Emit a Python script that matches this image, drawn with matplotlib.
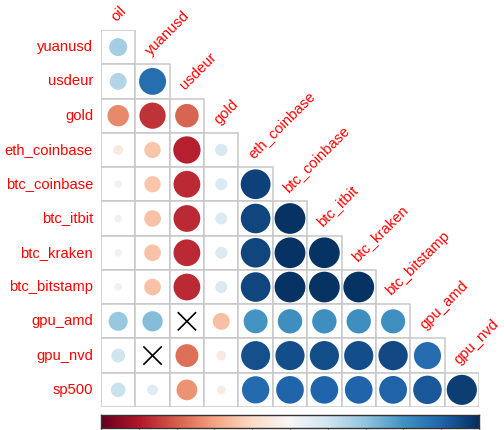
import numpy as np
import matplotlib
matplotlib.use("Agg")
import matplotlib.pyplot as plt
from matplotlib.patches import Circle, Rectangle

plt.rcParams['font.family'] = ['Liberation Sans', 'DejaVu Sans']

names = ['oil', 'yuanusd', 'usdeur', 'gold', 'eth_coinbase', 'btc_coinbase',
         'btc_itbit', 'btc_kraken', 'btc_bitstamp', 'gpu_amd', 'gpu_nvd', 'sp500']

# lower-triangle correlations (row i vs columns 0..i-1)
r_yuanusd = [0.34]
r_usdeur = [0.30, 0.76]
r_gold = [-0.48, -0.72, -0.58]
r_eth_coinbase = [-0.10, -0.28, -0.78, 0.16]
r_btc_coinbase = [0.06, -0.28, -0.75, 0.15, 0.93]
r_btc_itbit = [0.06, -0.29, -0.75, 0.15, 0.92, 0.99]
r_btc_kraken = [0.06, -0.29, -0.75, 0.15, 0.92, 0.99, 0.99]
r_btc_bitstamp = [0.06, -0.29, -0.75, 0.15, 0.92, 0.99, 0.99, 0.99]
r_gpu_amd = [0.38, 0.43, 0.02, -0.30, 0.60, 0.62, 0.62, 0.62, 0.61]
r_gpu_nvd = [0.20, 0.01, -0.55, -0.10, 0.88, 0.89, 0.89, 0.89, 0.90, 0.77]
r_sp500 = [0.22, 0.12, -0.45, -0.08, 0.78, 0.80, 0.80, 0.80, 0.81, 0.85, 0.95]

rows = [r_yuanusd, r_usdeur, r_gold, r_eth_coinbase, r_btc_coinbase, r_btc_itbit,
        r_btc_kraken, r_btc_bitstamp, r_gpu_amd, r_gpu_nvd, r_sp500]

# non-significant pairs (row name, column name)
insignificant = [('gpu_amd', 'usdeur'), ('gpu_nvd', 'yuanusd')]

row_names = names[1:]
col_names = names[:-1]
n = len(row_names)

W, H = 504, 430
fig = plt.figure(figsize=(W / 100, H / 100), dpi=100)
ax = fig.add_axes([101 / W, 1 - 407 / H, 378 / W, 377 / H])
ax.set_xlim(0, n)
ax.set_ylim(n, 0)
ax.axis('off')

cmap = plt.get_cmap('RdBu')
norm = matplotlib.colors.Normalize(-1, 1)

for i, vals in enumerate(rows):
    for j, v in enumerate(vals):
        ax.add_patch(Rectangle((j, i), 1, 1, facecolor='white', edgecolor='#C8C8C8',
                               linewidth=1.1, zorder=1))
        cx, cy = j + 0.5, i + 0.5
        if (row_names[i], col_names[j]) in insignificant:
            d = 0.25
            ax.plot([cx - d, cx + d], [cy - d, cy + d], color='black', lw=1.2, zorder=3)
            ax.plot([cx - d, cx + d], [cy + d, cy - d], color='black', lw=1.2, zorder=3)
        else:
            rad = 0.45 * np.sqrt(abs(v))
            ax.add_patch(Circle((cx, cy), rad, facecolor=cmap(norm(v)),
                                edgecolor='none', zorder=2))

for i, nm in enumerate(row_names):
    ax.text(-0.23, i + 0.5, nm, ha='right', va='center', color='red',
            fontsize=10.6, clip_on=False)

for j, nm in enumerate(col_names):
    ax.text(j + 0.5, j - 0.18, nm, ha='left', va='bottom', rotation=45,
            rotation_mode='anchor', color='red', fontsize=10.6, clip_on=False)

# colour legend
cax = fig.add_axes([101 / W, 1 - 428 / H, 378 / W, 13 / H])
grad = np.linspace(-1, 1, 400).reshape(1, -1)
cax.imshow(grad, aspect='auto', cmap=cmap, norm=norm, extent=[-1, 1, 0, 1])
cax.set_yticks([])
cax.set_xticks(np.linspace(-1, 1, 11))
cax.set_xticklabels([])
cax.tick_params(axis='x', length=6, color='#888888')
for s in cax.spines.values():
    s.set_color('#333333')
    s.set_linewidth(1.0)

fig.savefig('out.png', dpi=100)
